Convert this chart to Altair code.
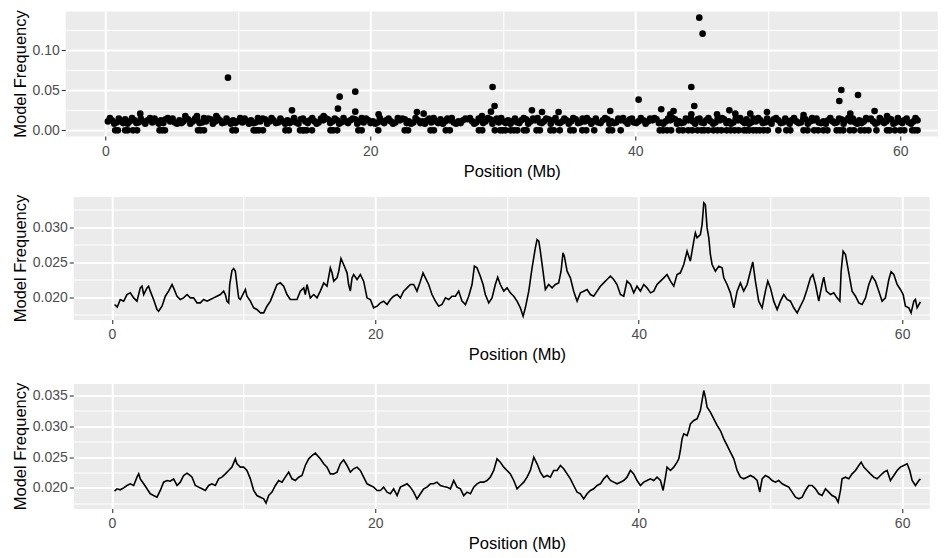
import altair as alt
import pandas as pd

FONT = "Liberation Sans"

# ---------------- Panel 1: per-marker model frequency (points) ----------------
band_pos = [
    0.2, 0.5, 0.85, 1.2, 1.5, 1.85, 2.2, 2.5, 2.85, 3.2,
    3.55, 3.9, 4.2, 4.55, 4.9, 5.25, 5.6, 5.9, 6.25, 6.6,
    6.95, 7.3, 7.6, 7.95, 8.3, 8.65, 9.0, 9.3, 9.65, 10.0,
    10.35, 10.7, 11.0, 11.35, 11.7, 12.05, 12.4, 12.7, 13.05, 13.4,
    13.75, 14.1, 14.4, 14.75, 15.1, 15.45, 15.8, 16.1, 16.45, 16.8,
    17.15, 17.5, 17.8, 18.15, 18.5, 18.85, 19.2, 19.5, 19.85, 20.2,
    20.55, 20.9, 21.2, 21.55, 21.9, 22.25, 22.6, 22.9, 23.25, 23.6,
    23.95, 24.3, 24.6, 24.95, 25.3, 25.65, 26.0, 26.3, 26.65, 27.0,
    27.35, 27.7, 28.0, 28.35, 28.7, 29.05, 29.4, 29.7, 30.05, 30.4,
    30.75, 31.1, 31.4, 31.75, 32.1, 32.45, 32.8, 33.1, 33.45, 33.8,
    34.15, 34.5, 34.8, 35.15, 35.5, 35.85, 36.2, 36.5, 36.85, 37.2,
    37.55, 37.9, 38.2, 38.55, 38.9, 39.25, 39.6, 39.9, 40.25, 40.6,
    40.95, 41.3, 41.6, 41.95, 42.3, 42.65, 43.0, 43.3, 43.65, 44.0,
    44.35, 44.7, 45.0, 45.35, 45.7, 46.05, 46.4, 46.7, 47.05, 47.4,
    47.75, 48.1, 48.4, 48.75, 49.1, 49.45, 49.8, 50.1, 50.45, 50.8,
    51.15, 51.5, 51.8, 52.15, 52.5, 52.85, 53.2, 53.5, 53.85, 54.2,
    54.55, 54.9, 55.2, 55.55, 55.9, 56.25, 56.6, 56.9, 57.25, 57.6,
    57.95, 58.3, 58.6, 58.95, 59.3, 59.65, 60.0, 60.3, 60.65, 61.0,
    61.3,
]
band_freq = [
    0.0111, 0.0125, 0.0097, 0.0111, 0.0139, 0.0111, 0.0125, 0.0097, 0.0111, 0.0125,
    0.0097, 0.0111, 0.0125, 0.0139, 0.0111, 0.0097, 0.0125, 0.0111, 0.0139, 0.0111,
    0.0125, 0.0097, 0.0111, 0.0139, 0.0111, 0.0125, 0.0097, 0.0111, 0.0125, 0.0111,
    0.0097, 0.0111, 0.0125, 0.0097, 0.0111, 0.0139, 0.0111, 0.0125, 0.0097, 0.0111,
    0.0125, 0.0111, 0.0097, 0.0139, 0.0111, 0.0125, 0.0111, 0.0097, 0.0125, 0.0139,
    0.0111, 0.0125, 0.0097, 0.0111, 0.0125, 0.0139, 0.0111, 0.0097, 0.0125, 0.0111,
    0.0097, 0.0111, 0.0125, 0.0111, 0.0097, 0.0125, 0.0139, 0.0111, 0.0097, 0.0125,
    0.0111, 0.0125, 0.0097, 0.0111, 0.0139, 0.0111, 0.0125, 0.0097, 0.0111, 0.0125,
    0.0139, 0.0111, 0.0097, 0.0125, 0.0111, 0.0139, 0.0125, 0.0097, 0.0111, 0.0125,
    0.0111, 0.0097, 0.0125, 0.0139, 0.0111, 0.0125, 0.0097, 0.0111, 0.0139, 0.0125,
    0.0097, 0.0111, 0.0125, 0.0111, 0.0139, 0.0097, 0.0111, 0.0125, 0.0111, 0.0097,
    0.0125, 0.0139, 0.0111, 0.0097, 0.0125, 0.0111, 0.0139, 0.0097, 0.0111, 0.0125,
    0.0111, 0.0125, 0.0139, 0.0097, 0.0111, 0.0125, 0.0139, 0.0111, 0.0097, 0.0125,
    0.0111, 0.0139, 0.0097, 0.0125, 0.0111, 0.0097, 0.0125, 0.0139, 0.0111, 0.0097,
    0.0125, 0.0111, 0.0139, 0.0097, 0.0111, 0.0125, 0.0097, 0.0111, 0.0139, 0.0125,
    0.0097, 0.0111, 0.0125, 0.0111, 0.0097, 0.0139, 0.0111, 0.0125, 0.0097, 0.0111,
    0.0125, 0.0111, 0.0097, 0.0139, 0.0125, 0.0111, 0.0097, 0.0125, 0.0111, 0.0139,
    0.0111, 0.0097, 0.0125, 0.0111, 0.0139, 0.0097, 0.0111, 0.0125, 0.0097, 0.0111,
    0.0125,
]
band2_pos = [
    0.35, 0.68, 1.02, 1.35, 1.68, 2.02, 2.35, 2.68, 3.02, 3.38,
    3.72, 4.05, 4.38, 4.72, 5.08, 5.42, 5.75, 6.08, 6.42, 6.78,
    7.12, 7.45, 7.78, 8.12, 8.48, 8.82, 9.15, 9.48, 9.82, 10.18,
    10.52, 10.85, 11.18, 11.52, 11.88, 12.22, 12.55, 12.88, 13.22, 13.58,
    13.92, 14.25, 14.58, 14.92, 15.28, 15.62, 15.95, 16.28, 16.62, 16.98,
    17.32, 17.65, 17.98, 18.32, 18.68, 19.02, 19.35, 19.68, 20.02, 20.38,
    20.72, 21.05, 21.38, 21.72, 22.08, 22.42, 22.75, 23.08, 23.42, 23.78,
    24.12, 24.45, 24.78, 25.12, 25.48, 25.82, 26.15, 26.48, 26.82, 27.18,
    27.52, 27.85, 28.18, 28.52, 28.88, 29.22, 29.55, 29.88, 30.22, 30.58,
    30.92, 31.25, 31.58, 31.92, 32.28, 32.62, 32.95, 33.28, 33.62, 33.98,
    34.32, 34.65, 34.98, 35.32, 35.68, 36.02, 36.35, 36.68, 37.02, 37.38,
    37.72, 38.05, 38.38, 38.72, 39.08, 39.42, 39.75, 40.08, 40.42, 40.78,
    41.12, 41.45, 41.78, 42.12, 42.48, 42.82, 43.15, 43.48, 43.82, 44.18,
    44.52, 44.85, 45.18, 45.52, 45.88, 46.22, 46.55, 46.88, 47.22, 47.58,
    47.92, 48.25, 48.58, 48.92, 49.28, 49.62, 49.95, 50.28, 50.62, 50.98,
    51.32, 51.65, 51.98, 52.32, 52.68, 53.02, 53.35, 53.68, 54.02, 54.38,
    54.72, 55.05, 55.38, 55.72, 56.08, 56.42, 56.75, 57.08, 57.42, 57.78,
    58.12, 58.45, 58.78, 59.12, 59.48, 59.82, 60.15, 60.48, 60.82, 61.15,
]
band2_freq = [
    0.0153, 0.0083, 0.0146, 0.0090, 0.0083, 0.0153, 0.0090, 0.0146, 0.0083, 0.0153,
    0.0146, 0.0083, 0.0090, 0.0153, 0.0146, 0.0083, 0.0090, 0.0153, 0.0083, 0.0146,
    0.0090, 0.0153, 0.0146, 0.0083, 0.0153, 0.0090, 0.0146, 0.0083, 0.0090, 0.0153,
    0.0146, 0.0083, 0.0090, 0.0153, 0.0146, 0.0083, 0.0153, 0.0090, 0.0146, 0.0083,
    0.0090, 0.0153, 0.0083, 0.0146, 0.0090, 0.0153, 0.0083, 0.0146, 0.0153, 0.0090,
    0.0146, 0.0083, 0.0153, 0.0090, 0.0146, 0.0083, 0.0153, 0.0146, 0.0090, 0.0083,
    0.0153, 0.0090, 0.0146, 0.0083, 0.0153, 0.0146, 0.0090, 0.0083, 0.0153, 0.0090,
    0.0083, 0.0146, 0.0153, 0.0090, 0.0083, 0.0146, 0.0153, 0.0083, 0.0090, 0.0146,
    0.0153, 0.0083, 0.0146, 0.0090, 0.0153, 0.0083, 0.0146, 0.0153, 0.0090, 0.0083,
    0.0146, 0.0090, 0.0153, 0.0083, 0.0146, 0.0153, 0.0090, 0.0146, 0.0083, 0.0153,
    0.0090, 0.0146, 0.0083, 0.0153, 0.0090, 0.0146, 0.0153, 0.0083, 0.0146, 0.0090,
    0.0153, 0.0083, 0.0090, 0.0146, 0.0153, 0.0083, 0.0146, 0.0090, 0.0153, 0.0083,
    0.0146, 0.0153, 0.0090, 0.0083, 0.0146, 0.0153, 0.0083, 0.0090, 0.0146, 0.0153,
    0.0083, 0.0146, 0.0090, 0.0153, 0.0083, 0.0146, 0.0153, 0.0090, 0.0083, 0.0146,
    0.0153, 0.0090, 0.0083, 0.0146, 0.0153, 0.0090, 0.0146, 0.0083, 0.0153, 0.0090,
    0.0146, 0.0083, 0.0153, 0.0090, 0.0146, 0.0083, 0.0153, 0.0146, 0.0090, 0.0083,
    0.0153, 0.0090, 0.0146, 0.0083, 0.0153, 0.0146, 0.0083, 0.0090, 0.0153, 0.0146,
    0.0083, 0.0153, 0.0090, 0.0146, 0.0083, 0.0153, 0.0090, 0.0146, 0.0083, 0.0153,
]
zero_pos = [
    0.75, 0.95, 1.5, 1.7, 2.1, 2.4, 4.1, 4.3, 4.5, 7.0, 7.2, 7.45, 9.6, 9.85,
    11.2, 11.4, 11.6, 11.9, 13.6, 13.85, 14.7, 14.9, 15.0, 15.2, 15.6, 17.0,
    17.2, 17.5, 19.1, 19.35, 20.6, 22.6, 22.85, 24.55, 24.8, 25.7, 26.0, 28.2,
    28.45, 29.4, 29.8, 30.0, 30.2, 30.6, 30.85, 31.1, 31.6, 31.8, 32.55, 32.8,
    33.6, 33.85, 34.3, 35.1, 35.35, 36.0, 36.3, 36.9, 38.0, 38.25, 38.9, 41.85,
    42.1, 42.4, 42.7, 43.3, 43.6, 44.0, 44.3, 44.7, 45.0, 45.2, 45.5, 45.9,
    46.2, 46.5, 46.9, 47.2, 47.5, 47.8, 48.2, 48.4, 48.6, 48.9, 49.15, 49.4,
    49.7, 50.0, 50.8, 51.4, 51.7, 52.7, 53.0, 53.5, 53.8, 54.2, 54.5, 55.2,
    55.45, 55.7, 56.2, 56.5, 57.0, 57.3, 57.6, 58.2, 59.0, 59.2, 59.6, 60.0,
    60.3, 60.9, 61.1, 61.3,
]
high_pos = [
    2.64, 6.04, 6.92, 8.38, 9.26, 14.09, 16.48, 17.56, 17.69, 18.87, 18.87, 20.63,
    23.52, 24.03, 28.43, 29.11, 29.23, 29.38, 32.2, 32.96, 34.21, 38.11, 40.25,
    41.96, 42.64, 42.89, 44.23, 44.45, 44.83, 45.08, 44.23, 46.17, 47.1, 47.55,
    48.68, 49.94, 52.7, 55.4, 55.55, 56.23, 56.81, 58.06, 59.0,
]
high_freq = [
    0.0208, 0.0179, 0.0179, 0.0179, 0.0658, 0.0250, 0.0179, 0.0271, 0.0421, 0.0483, 0.0233, 0.0200,
    0.0229, 0.0208, 0.0179, 0.0233, 0.0542, 0.0304, 0.0250, 0.0229, 0.0229, 0.0242, 0.0383,
    0.0263, 0.0200, 0.0242, 0.0542, 0.0304, 0.1408, 0.1208, 0.0200, 0.0200, 0.0250, 0.0208,
    0.0208, 0.0229, 0.0192, 0.0367, 0.0504, 0.0208, 0.0442, 0.0242, 0.0179,
]

# ---------------- Panel 2: smoothed model frequency ----------------
p2_pos = [
    0.20, 0.40, 0.63, 0.89, 1.14, 1.39, 1.65, 1.90, 2.15, 2.28,
    2.41, 2.66, 2.78, 2.91, 3.16, 3.42, 3.54, 3.80, 4.05, 4.30,
    4.56, 4.68, 4.94, 5.19, 5.44, 5.70, 5.95, 6.20, 6.46, 6.71,
    6.96, 7.22, 7.47, 7.72, 7.97, 8.23, 8.48, 8.61, 8.73, 8.86,
    8.94, 9.11, 9.24, 9.37, 9.49, 9.62, 9.75, 10.00, 10.13, 10.25,
    10.51, 10.76, 11.01, 11.27, 11.52, 11.77, 12.03, 12.28, 12.53, 12.78,
    13.04, 13.29, 13.54, 13.80, 14.05, 14.30, 14.56, 14.68, 14.81, 15.06,
    15.32,
    15.57, 15.82, 16.08, 16.33, 16.58, 16.71, 16.84, 17.09, 17.22, 17.39,
    17.59, 17.85, 17.97, 18.10, 18.23, 18.35, 18.61, 18.86, 19.11, 19.37,
    19.62, 19.87, 20.13, 20.38, 20.63, 20.89, 21.14, 21.39, 21.65, 21.90,
    22.15, 22.41, 22.66, 22.91, 23.16, 23.42, 23.62, 23.80, 24.05, 24.30,
    24.56, 24.81, 25.06, 25.32, 25.57, 25.82, 26.08, 26.33, 26.58, 26.84,
    27.09, 27.34, 27.52, 27.72, 27.97, 28.18, 28.35, 28.61, 28.86, 29.11,
    29.29, 29.49, 29.75, 30.00, 30.25, 30.51, 30.76, 31.01, 31.22, 31.39,
    31.65, 31.90, 32.15, 32.28, 32.41, 32.53, 32.73, 32.91, 33.16, 33.42,
    33.67, 33.92, 34.10, 34.25, 34.35, 34.56, 34.81, 35.06, 35.32, 35.57,
    35.82, 36.08, 36.33, 36.58, 36.84, 37.09, 37.34, 37.59, 37.85, 38.10,
    38.35, 38.61, 38.86, 39.11, 39.37, 39.62, 39.87, 40.13,
    40.38, 40.63, 40.89, 41.14, 41.39, 41.65, 41.90, 42.15, 42.41, 42.66,
    42.91, 43.16, 43.42, 43.67, 43.92, 44.18, 44.30, 44.43, 44.68, 44.81,
    44.94, 45.06, 45.19, 45.32, 45.44, 45.57, 45.82, 46.08, 46.33, 46.46,
    46.71, 46.96, 47.22, 47.47, 47.72, 47.97, 48.23, 48.48, 48.66, 48.86,
    49.11, 49.37, 49.62, 49.80, 50.00, 50.25, 50.51, 50.76, 51.01, 51.27,
    51.52, 51.77, 52.03, 52.28, 52.53, 52.78, 53.04, 53.22, 53.42, 53.67,
    53.92, 54.05, 54.25, 54.56, 54.81, 55.06, 55.27, 55.37, 55.52, 55.70,
    55.95, 56.20, 56.46, 56.71, 56.96, 57.22, 57.47, 57.72, 57.97, 58.23,
    58.48, 58.73, 58.99, 59.16, 59.37, 59.62, 59.87, 60.08, 60.25, 60.51,
    60.68, 60.89, 61.01, 61.14, 61.39,
]
p2_freq = [
    0.01895, 0.01857, 0.01967, 0.01943, 0.02038, 0.02062, 0.01990, 0.01943, 0.02133, 0.02157,
    0.02038, 0.02133, 0.02157, 0.02086, 0.01967, 0.01824, 0.01800, 0.01871, 0.02014, 0.02086,
    0.02181, 0.02133, 0.02014, 0.01967, 0.01990, 0.02038, 0.01990, 0.01990, 0.01919, 0.01919,
    0.01967, 0.01943, 0.01967, 0.01990, 0.02014, 0.02038, 0.02086, 0.02038, 0.01943, 0.01919,
    0.02181, 0.02381, 0.02410, 0.02371, 0.02181, 0.01990, 0.01967, 0.02062, 0.02110, 0.02014,
    0.01943, 0.01848, 0.01824, 0.01776, 0.01776, 0.01871, 0.01943, 0.02062, 0.02181, 0.02205,
    0.02157, 0.02038, 0.01967, 0.01967, 0.01967, 0.02086, 0.02133, 0.02038, 0.02181, 0.01990,
    0.02038,
    0.01990, 0.02086, 0.02205, 0.02157, 0.02419, 0.02348, 0.02229, 0.02276, 0.02371, 0.02552,
    0.02467, 0.02348, 0.02181, 0.02086, 0.02276, 0.02324, 0.02252, 0.02324, 0.02229, 0.01990,
    0.01967, 0.01848, 0.01871, 0.01919, 0.01943, 0.01895, 0.01967, 0.02014, 0.02038, 0.01990,
    0.02086, 0.02133, 0.02181, 0.02181, 0.02086, 0.02229, 0.02348, 0.02276, 0.02181, 0.02038,
    0.01943, 0.01871, 0.01895, 0.01990, 0.01967, 0.02014, 0.02014, 0.02086, 0.01943, 0.01895,
    0.02014, 0.02181, 0.02443, 0.02419, 0.02300, 0.02181, 0.02038, 0.01919, 0.01990, 0.02181,
    0.02286, 0.02181, 0.02086, 0.02133, 0.02062, 0.02014, 0.01943, 0.01848, 0.01729, 0.01848,
    0.02086, 0.02419, 0.02705, 0.02824, 0.02800, 0.02657, 0.02371, 0.02110, 0.02181, 0.02133,
    0.02181, 0.02205, 0.02371, 0.02633, 0.02586, 0.02371, 0.02276, 0.02086, 0.01943, 0.02062,
    0.02086, 0.02110, 0.02038, 0.02014, 0.02086, 0.02157, 0.02205, 0.02252, 0.02300, 0.02252,
    0.02181, 0.02038, 0.02014, 0.02229, 0.02181, 0.02062, 0.02157, 0.02086,
    0.02181, 0.02133, 0.02062, 0.02086, 0.02181, 0.02229, 0.02276, 0.02324, 0.02229, 0.02157,
    0.02324, 0.02348, 0.02467, 0.02657, 0.02514, 0.02800, 0.02919, 0.02848, 0.02895, 0.03038,
    0.03348, 0.03324, 0.02990, 0.02848, 0.02610, 0.02467, 0.02371, 0.02443, 0.02419, 0.02276,
    0.02181, 0.02062, 0.01848, 0.02086, 0.02205, 0.02086, 0.02181, 0.02371, 0.02505, 0.02229,
    0.01943, 0.01848, 0.02086, 0.02229, 0.02133, 0.01943, 0.01824, 0.01943, 0.02038, 0.01967,
    0.01943, 0.01848, 0.01776, 0.01871, 0.01967, 0.02110, 0.02276, 0.02324, 0.02181, 0.01943,
    0.02181, 0.02286, 0.02086, 0.02038, 0.02062, 0.01990, 0.01943, 0.02371, 0.02657, 0.02610,
    0.02348, 0.02086, 0.02014, 0.01919, 0.01895, 0.01990, 0.02181, 0.02300, 0.02229, 0.02086,
    0.01943, 0.01990, 0.02252, 0.02362, 0.02324, 0.02181, 0.02110, 0.02038, 0.01871, 0.01848,
    0.01776, 0.01943, 0.01967, 0.01848, 0.01933,
]

# ---------------- Panel 3: more strongly smoothed model frequency ----------------
p3_pos = [
    0.20, 0.38, 0.63, 0.89, 1.14, 1.39, 1.65, 1.90, 2.03, 2.15,
    2.41, 2.66, 2.91, 3.16, 3.42, 3.67, 3.92, 4.18, 4.43, 4.68,
    4.94, 5.19, 5.44, 5.70, 5.95, 6.08, 6.33, 6.58, 6.84, 7.09,
    7.34, 7.59, 7.85, 8.10, 8.35, 8.61, 8.86, 9.11, 9.37, 9.49,
    9.75, 10.00, 10.25, 10.51, 10.76, 11.01, 11.27, 11.52, 11.70, 11.90,
    12.15, 12.41, 12.66, 12.91, 13.16, 13.42, 13.67, 13.92, 14.18, 14.43,
    14.68, 14.94, 15.19, 15.44,
    15.82, 16.08, 16.33, 16.58, 16.84, 17.09, 17.34, 17.59, 17.85, 18.10,
    18.35, 18.61, 18.86, 19.11, 19.37, 19.62, 19.87, 20.13, 20.38, 20.63,
    20.89, 21.14, 21.39, 21.65, 21.90, 22.15, 22.41, 22.66, 22.91, 23.16,
    23.42, 23.67, 23.92, 24.18, 24.43, 24.68, 24.94, 25.19, 25.44, 25.70,
    25.95, 26.20, 26.46, 26.71, 26.96, 27.22, 27.47, 27.72, 27.97, 28.23,
    28.48, 28.73, 28.99, 29.24, 29.49, 29.75, 30.00, 30.25, 30.51, 30.76,
    31.01, 31.27, 31.52, 31.77, 32.03, 32.28, 32.53, 32.78, 33.04, 33.29,
    33.54, 33.80, 34.05, 34.30, 34.56, 34.81, 35.06, 35.32, 35.57, 35.82,
    36.08, 36.33, 36.58, 36.84, 37.09, 37.34, 37.59, 37.85, 38.10, 38.35,
    38.61, 38.86, 39.11, 39.37, 39.62, 39.87, 40.13,
    40.38, 40.63, 40.89, 41.14, 41.39, 41.65, 41.85, 42.03, 42.15, 42.41,
    42.66, 42.91, 43.04, 43.16, 43.29, 43.42, 43.67, 43.80, 43.92, 44.18,
    44.43, 44.68, 44.81, 44.94, 45.06, 45.19, 45.44, 45.70, 45.95, 46.20,
    46.46, 46.71, 46.96, 47.22, 47.47, 47.72, 47.97, 48.23, 48.48, 48.73,
    48.99, 49.19, 49.37, 49.62, 49.87, 50.13, 50.38, 50.63, 50.89, 51.14,
    51.39, 51.65, 51.90, 52.15, 52.41, 52.66, 52.91, 53.16, 53.42, 53.67,
    53.92, 54.18, 54.43, 54.68, 54.94, 55.14, 55.32, 55.44, 55.70, 55.95,
    56.20, 56.46, 56.71, 56.89, 57.09, 57.34, 57.59, 57.85, 58.10, 58.35,
    58.61, 58.86, 59.11, 59.37, 59.62, 59.87, 60.13, 60.38, 60.58, 60.76,
    61.01, 61.27, 61.39,
]
p3_freq = [
    0.01946, 0.01984, 0.01968, 0.02000, 0.02038, 0.02065, 0.02038, 0.02173, 0.02227, 0.02146,
    0.02065, 0.01984, 0.01903, 0.01875, 0.01848, 0.01957, 0.02092, 0.02119, 0.02108, 0.02146,
    0.02038, 0.02092, 0.02200, 0.02238, 0.02200, 0.02173, 0.02038, 0.02011, 0.01984, 0.01957,
    0.02038, 0.02065, 0.02038, 0.02146, 0.02173, 0.02227, 0.02282, 0.02336, 0.02471, 0.02390,
    0.02336, 0.02336, 0.02282, 0.02146, 0.01957, 0.01875, 0.01848, 0.01821, 0.01751, 0.01875,
    0.01930, 0.02038, 0.02119, 0.02092, 0.02173, 0.02255, 0.02146, 0.02119, 0.02173, 0.02200,
    0.02363, 0.02471, 0.02525, 0.02563,
    0.02471, 0.02390, 0.02336, 0.02227, 0.02227, 0.02255, 0.02390, 0.02455, 0.02363, 0.02255,
    0.02309, 0.02336, 0.02282, 0.02173, 0.02065, 0.02038, 0.02011, 0.01957, 0.01957, 0.02011,
    0.01930, 0.01903, 0.01984, 0.01875, 0.02011, 0.02038, 0.02065, 0.02011, 0.01930, 0.01821,
    0.01903, 0.01984, 0.02011, 0.02065, 0.02065, 0.02092, 0.02038, 0.02022, 0.02011, 0.01984,
    0.02119, 0.02011, 0.01984, 0.01875, 0.01930, 0.01903, 0.02011, 0.02065, 0.02092, 0.02092,
    0.02119, 0.02173, 0.02282, 0.02471, 0.02417, 0.02336, 0.02282, 0.02227, 0.02119, 0.01984,
    0.02038, 0.02092, 0.02173, 0.02282, 0.02498, 0.02390, 0.02255, 0.02173, 0.02200, 0.02173,
    0.02282, 0.02282, 0.02363, 0.02309, 0.02227, 0.02146, 0.02038, 0.01930, 0.01903, 0.01821,
    0.01903, 0.01957, 0.01984, 0.02038, 0.02065, 0.02146, 0.02200, 0.02119, 0.02092, 0.02065,
    0.02092, 0.02119, 0.02173, 0.02282, 0.02227, 0.02119, 0.02038,
    0.02092, 0.02119, 0.02146, 0.02119, 0.02173, 0.02119, 0.01957, 0.02173, 0.02336, 0.02282,
    0.02336, 0.02417, 0.02471, 0.02606, 0.02796, 0.02877, 0.02850, 0.02931, 0.03040, 0.03094,
    0.03121, 0.03256, 0.03419, 0.03581, 0.03473, 0.03310, 0.03229, 0.03121, 0.03013, 0.02931,
    0.02796, 0.02688, 0.02579, 0.02471, 0.02282, 0.02173, 0.02146, 0.02173, 0.02200, 0.02173,
    0.02119, 0.01930, 0.02146, 0.02200, 0.02173, 0.02119, 0.02092, 0.02119, 0.02065, 0.02038,
    0.02011, 0.01930, 0.01848, 0.01821, 0.01848, 0.01957, 0.02038, 0.02038, 0.01984, 0.01903,
    0.01875, 0.01984, 0.01930, 0.01875, 0.01848, 0.01767, 0.01957, 0.02146, 0.02173, 0.02146,
    0.02227, 0.02282, 0.02363, 0.02417, 0.02336, 0.02282, 0.02227, 0.02173, 0.02146, 0.02200,
    0.02255, 0.02282, 0.02119, 0.02200, 0.02282, 0.02336, 0.02363, 0.02390, 0.02282, 0.02119,
    0.02038, 0.02119, 0.02146,
]

# tick / grid values
x_all = [0, 10, 20, 30, 40, 50, 60]
x_major = [0, 20, 40, 60]
y1_all = [0, 0.025, 0.05, 0.075, 0.1, 0.125]
y1_major = [0, 0.05, 0.1]
y2_all = [0.0175, 0.02, 0.0225, 0.025, 0.0275, 0.03, 0.0325]
y2_major = [0.02, 0.025, 0.03]
y3_all = [0.0175, 0.02, 0.0225, 0.025, 0.0275, 0.03, 0.0325, 0.035]
y3_major = [0.02, 0.025, 0.03, 0.035]

df1 = pd.DataFrame({
    "pos": band_pos + band2_pos + zero_pos + high_pos,
    "freq": band_freq + band2_freq + [0.0] * len(zero_pos) + high_freq,
})
df2 = pd.DataFrame(list(zip(p2_pos, p2_freq)), columns=["pos", "freq"])
df3 = pd.DataFrame(list(zip(p3_pos, p3_freq)), columns=["pos", "freq"])


def is_major(majors):
    return "indexof(" + str(majors) + ", datum.value) >= 0"


def axis(values, majors, fmt, title, **kw):
    t = is_major(majors)
    return alt.Axis(
        values=values,
        format=fmt,
        labelExpr=t + " ? datum.label : ''",
        title=title,
        gridWidth={"condition": {"test": t, "value": 2.0}, "value": 1.0},
        tickOpacity={"condition": {"test": t, "value": 1}, "value": 0},
        **kw,
    )


def xenc(dom, title_x):
    return alt.X(
        "pos:Q",
        scale=alt.Scale(domain=dom, nice=False, zero=False),
        axis=axis(x_all, x_major, "d", "Position (Mb)",
                  labelPadding=4, titlePadding=5, titleX=title_x),
    )


def yenc(dom, vals, majors, fmt):
    return alt.Y(
        "freq:Q",
        scale=alt.Scale(domain=dom, nice=False, zero=False),
        axis=axis(vals, majors, fmt, "Model Frequency",
                  labelPadding=2, titlePadding=4),
    )


W1 = 872
W2 = W1 - 16

p1 = alt.Chart(df1).mark_circle(size=44, color="#000000", opacity=1).encode(
    x=xenc([-3.02, 62.79], 446.5),
    y=yenc([-0.0071, 0.1491], y1_all, y1_major, ".2f"),
).properties(width=W1, height=125)

p2 = alt.Chart(df2).mark_line(color="#000000", strokeWidth=1.6).encode(
    x=xenc([-2.94, 62.06], 443.7),
    y=yenc([0.01681, 0.03439], y2_all, y2_major, ".3f"),
    order="pos:Q",
).properties(width=W2, height=123)

p3 = alt.Chart(df3).mark_line(color="#000000", strokeWidth=1.6).encode(
    x=xenc([-2.94, 62.06], 443.7),
    y=yenc([0.01664, 0.03695], y3_all, y3_major, ".3f"),
    order="pos:Q",
).properties(width=W2, height=125)

lower = alt.vconcat(p2, p3, spacing=18)

chart = alt.vconcat(p1, lower, spacing=13.5, center=True).properties(
    padding={"left": 3, "top": 1, "right": 0, "bottom": 0},
    background="#FFFFFF",
).configure_view(
    fill="#EBEBEB", stroke="transparent"
).configure_axis(
    domain=False,
    grid=True,
    gridColor="#FFFFFF",
    labelFont=FONT,
    labelFontSize=14,
    labelColor="#4D4D4D",
    titleFont=FONT,
    titleFontSize=16.5,
    titleFontWeight="normal",
    titleColor="#000000",
    tickColor="#333333",
    tickSize=4,
    tickWidth=1.1,
    labelOverlap=False,
    labelFlush=False,
)

chart.save("out.html", embed_options={"renderer": "svg", "actions": False})
